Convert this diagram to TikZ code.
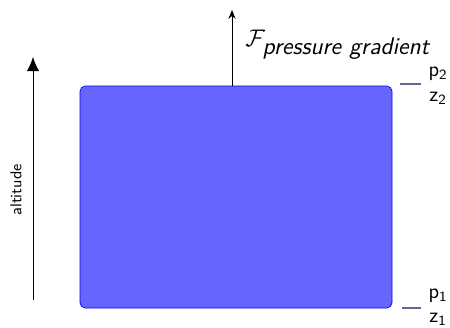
\documentclass[tikz,border=0pt]{standalone}
\usetikzlibrary{arrows.meta,positioning}
\renewcommand{\familydefault}{\sfdefault}

\begin{document}
\begin{tikzpicture}[
  x=1cm,
  y=1cm,
  font=\sffamily,
  parcel/.style={draw=blue, fill=blue!60, rounded corners=3pt, minimum width=6.24cm, minimum height=4.44cm, inner sep=0pt},
  force/.style={-{Stealth[length=5pt,width=4pt]}, line width=0.5pt},
  axis/.style={-{Latex[length=8pt,width=7pt]}, line width=0.5pt},
  level/.style={draw=black!70!blue!60, line width=0.6pt},
  levellabel/.style={inner sep=0pt, font=\large}
]
  \useasboundingbox (0,0) rectangle (9,6.54);

  % air parcel
  \node[parcel] (parcel) at (4.72, 2.6) {};

  % pressure gradient force
  \coordinate (ftip) at (4.64, 6.34);
  \draw[force] (parcel.north -| ftip) -- (ftip);
  \node[anchor=west, inner sep=0pt, font=\Large, scale=0.95] (flabel) at (4.9, 5.64)
    {$\mathcal{F}_{\textsf{\itshape pressure\hspace{0.35em}gradient}}$};

  % altitude axis
  \coordinate (abot) at (0.66, 0.54);
  \coordinate (atop) at (0.66, 5.4);
  \draw[axis] (abot) -- (atop);
  \node[rotate=90, font=\small, inner sep=0pt] (alabel) at (0.32, 2.74) {altitude};

  % upper level
  \coordinate (l2a) at (8.0, 4.86);
  \coordinate (l2b) at (8.42, 4.86);
  \draw[level] (l2a) -- (l2b);
  \node[levellabel] (p2) at (8.76, 5.06) {p$_{\mathsf{2}}$};
  \node[levellabel] (z2) at (8.76, 4.58) {z$_{\mathsf{2}}$};

  % lower level
  \coordinate (l1a) at (8.04, 0.38);
  \coordinate (l1b) at (8.42, 0.38);
  \draw[level] (l1a) -- (l1b);
  \node[levellabel] (p1) at (8.76, 0.62) {p$_{\mathsf{1}}$};
  \node[levellabel] (z1) at (8.76, 0.16) {z$_{\mathsf{1}}$};
\end{tikzpicture}
\end{document}
